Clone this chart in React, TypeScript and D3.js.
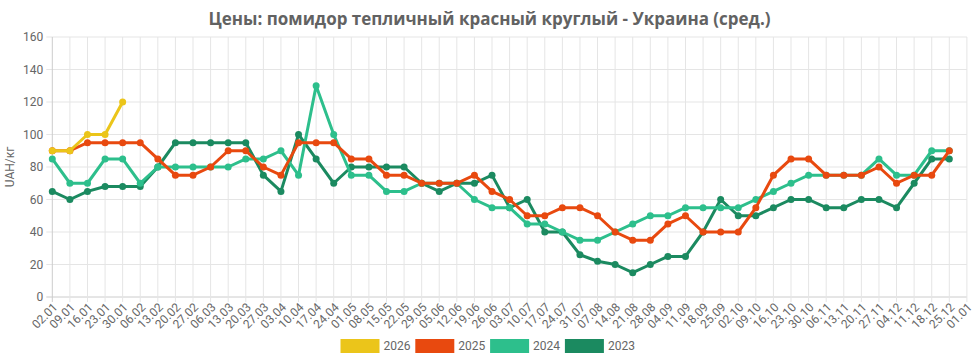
import React from "react";
import * as d3 from "d3";

const labels = ["02.01","09.01","16.01","23.01","30.01","06.02","13.02","20.02","27.02","06.03","13.03","20.03","27.03","03.04","10.04","17.04","24.04","01.05","08.05","15.05","22.05","29.05","05.06","12.06","19.06","26.06","03.07","10.07","17.07","24.07","31.07","07.08","14.08","21.08","28.08","04.09","11.09","18.09","25.09","02.10","09.10","16.10","23.10","30.10","06.11","13.11","20.11","27.11","04.12","11.12","18.12","25.12","01.01"];

const s2026 = [90, 90, 100, 100, 120];
const s2025 = [90,90,95,95,95,95,85,75,75,80,90,90,80,75,95,95,95,85,85,75,75,70,70,70,75,65,60,50,50,55,55,50,40,35,35,45,50,40,40,40,55,75,85,85,75,75,75,80,70,75,75,90];
const s2024 = [85,70,70,85,85,70,80,80,80,80,80,85,85,90,75,130,100,75,75,65,65,70,70,70,60,55,55,45,45,40,35,35,40,45,50,50,55,55,55,55,60,65,70,75,75,75,75,85,75,75,90,90];
const s2023 = [65,60,65,68,68,68,80,95,95,95,95,95,75,65,100,85,70,80,80,80,80,70,65,70,70,75,55,60,40,40,26,22,20,15,20,25,25,40,60,50,50,55,60,60,55,55,60,60,55,70,85,85];

const yTicks = [0, 20, 40, 60, 80, 100, 120, 140, 160];

const seriesNames = ["2026", "2025", "2024", "2023"];
const seriesColors = ["#ebc51a", "#e8490f", "#2dbf8c", "#1b8a60"];
const seriesData = [s2026, s2025, s2024, s2023];

export default function App() {
  const W = 974, H = 361;
  const left = 52.3, right = 966.9, top = 37, bottom = 297;
  const x = d3.scalePoint<string>().domain(labels).range([left, right]);
  const y = d3.scaleLinear().domain([0, 160]).range([bottom, top]);
  const line = d3.line<number>().x((_, i) => x(labels[i]) as number).y((d) => y(d));
  const font = "Roboto, 'Noto Sans', sans-serif";
  const textColor = "#666";

  const drawOrder = [3, 2, 1, 0];

  return (
    <svg width={W} height={H} style={{ position: "absolute", left: 0, top: 0 }} fontFamily={font}>
      <rect width={W} height={H} fill="#fff" />
      <text
        x={208.5}
        y={25}
        fontSize={18}
        fontWeight="bold"
        fontFamily="'Open Sans', Roboto, sans-serif"
        fill="#626262"
        textLength={562}
        lengthAdjust="spacingAndGlyphs"
      >
        Цены: помидор тепличный красный круглый - Украина (сред.)
      </text>
      {/* horizontal grid */}
      {yTicks.map((t) => (
        <g key={"y" + t}>
          <line x1={left - 6} x2={right} y1={y(t)} y2={y(t)} stroke={t === 0 ? "#ccc" : "#e5e5e5"} strokeWidth={1} />
          <text x={left - 9} y={y(t)} dy="0.35em" textAnchor="end" fontSize={12} fill={textColor}>{t}</text>
        </g>
      ))}
      {/* vertical grid */}
      {labels.map((l, i) => (
        <g key={"x" + l}>
          <line x1={x(l)} x2={x(l)} y1={top} y2={bottom + 5} stroke={i === 0 ? "#ccc" : "#e5e5e5"} strokeWidth={1} />
          <text
            transform={`translate(${(x(l) as number) + 3},${bottom + 8}) rotate(-45)`}
            textAnchor="end"
            dy="0.35em"
            fontSize={12}
            fill={textColor}
          >{l}</text>
        </g>
      ))}
      <text transform={`translate(14,${(top + bottom) / 2}) rotate(-90)`} textAnchor="middle" fontSize={12} fill={textColor}>UAH/кг</text>
      {drawOrder.map((k) => (
        <g key={seriesNames[k]}>
          <path d={line(seriesData[k]) || ""} fill="none" stroke={seriesColors[k]} strokeWidth={3} strokeLinejoin="round" />
          {seriesData[k].map((v, i) => (
            <circle key={i} cx={x(labels[i])} cy={y(v)} r={3.5} fill={seriesColors[k]} />
          ))}
        </g>
      ))}
      {/* legend */}
      {seriesNames.map((n, k) => (
        <g key={"lg" + n} transform={`translate(${340.5 + k * 74.8},339)`}>
          <rect x={0} y={0} width={39} height={14} fill={seriesColors[k]} />
          <text x={43} y={7} dy="0.35em" fontSize={12} fill={textColor}>{n}</text>
        </g>
      ))}
    </svg>
  );
}
